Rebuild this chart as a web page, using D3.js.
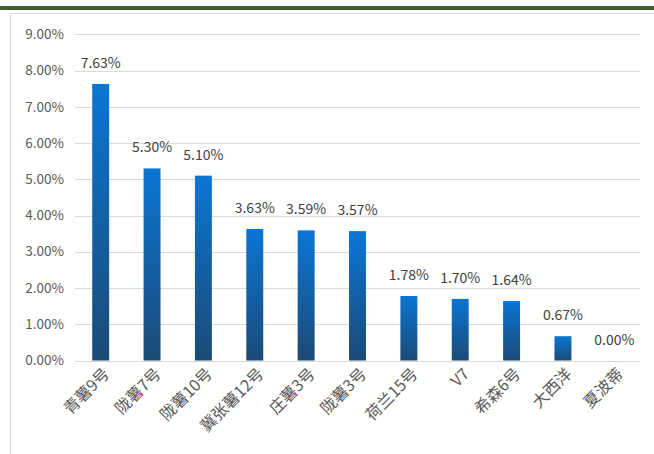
<!DOCTYPE html>
<html><head><meta charset="utf-8">
<script src="https://cdn.jsdelivr.net/npm/d3@7"></script>
<style>body{margin:0;background:#fff;}svg{display:block;}</style>
</head><body>
<script>
const categories = ["青薯9号","陇薯7号","陇薯10号","冀张薯12号","庄薯3号","陇薯3号","荷兰15号","V7","希森6号","大西洋","夏波蒂"];
const values = [7.63,5.30,5.10,3.63,3.59,3.57,1.78,1.70,1.64,0.67,0.00];
const yTicks = [0,1,2,3,4,5,6,7,8,9];

const W=654,H=454;
const svg=d3.select("body").append("svg").attr("width",W).attr("height",H);
const font="'Noto Sans CJK SC','Noto Sans',sans-serif";

// top green bar
svg.append("rect").attr("x",0).attr("y",6).attr("width",W).attr("height",4).attr("fill","#3f5f2a");
// chart box
svg.append("rect").attr("x",10.5).attr("y",13.5).attr("width",W).attr("height",H).attr("fill","#fff").attr("stroke","#d9d9d9");

const defs=svg.append("defs");
const g=defs.append("linearGradient").attr("id","bg").attr("x1",0).attr("y1",0).attr("x2",0).attr("y2",1);
g.append("stop").attr("offset","0%").attr("stop-color","#0a76d4");
g.append("stop").attr("offset","100%").attr("stop-color","#1c4a76");

const x=d3.scaleBand().domain(categories).range([75,640]).paddingInner(0.67).paddingOuter(0.335);
const y=d3.scaleLinear().domain([0,9]).range([360.5,34.3]);

// gridlines
svg.append("g").selectAll("line").data(yTicks).join("line")
 .attr("x1",75).attr("x2",640).attr("y1",d=>Math.round(y(d))+0.5).attr("y2",d=>Math.round(y(d))+0.5)
 .attr("stroke","#d9d9d9").attr("stroke-width",1);

// y labels
svg.append("g").selectAll("text").data(yTicks).join("text")
 .attr("x",64).attr("y",d=>y(d)).attr("dy","0.35em").attr("text-anchor","end")
 .attr("font-family",font).attr("font-size",13.5).attr("fill","#595959")
 .text(d=>d.toFixed(2)+"%");

// bars
svg.append("g").selectAll("rect").data(values).join("rect")
 .attr("x",(d,i)=>x(categories[i])).attr("width",x.bandwidth())
 .attr("y",d=>y(d)).attr("height",d=>y(0)-y(d)).attr("fill","url(#bg)");

// value labels
svg.append("g").selectAll("text").data(values).join("text")
 .attr("x",(d,i)=>x(categories[i])+x.bandwidth()/2).attr("y",d=>y(d)-16)
 .attr("text-anchor","middle").attr("font-family",font).attr("font-size",14).attr("fill","#404040")
 .text(d=>d.toFixed(2)+"%");

// category labels
svg.append("g").selectAll("text").data(categories).join("text")
 .attr("transform",d=>`translate(${x(d)+x.bandwidth()/2+6},${371}) rotate(-45)`)
 .attr("text-anchor","end").attr("dy","0.35em")
 .attr("font-family",font).attr("font-size",16).attr("fill","#595959")
 .text(d=>d);
</script>
</body></html>
